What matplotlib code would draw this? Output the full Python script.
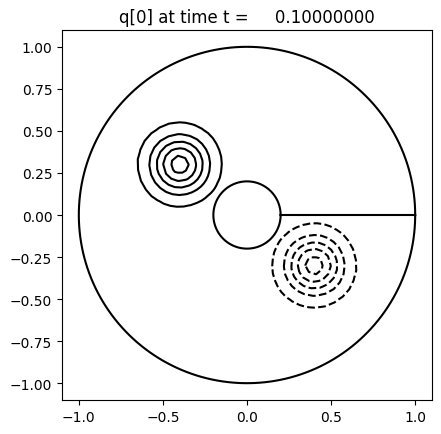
import matplotlib
matplotlib.use("Agg")
import matplotlib.pyplot as plt
import numpy as np

# annulus geometry
r_inner = 0.2
r_outer = 1.0

# two gaussian humps: (x0, y0, amplitude)
hump_x = [-0.4, 0.4]
hump_y = [0.3, -0.3]
hump_amp = [1.0, -1.0]
hump_width = 37.0

levels = [-0.9, -0.7, -0.5, -0.3, -0.1, 0.1, 0.3, 0.5, 0.7, 0.9]

t = 0.1

# mapped polar grid (cell centres), coarse like the solver output
nr, nth = 20, 80
dr = (r_outer - r_inner) / nr
dth = 2 * np.pi / nth
r = r_inner + dr * (np.arange(nr) + 0.5)
th = dth * (np.arange(nth + 1))
R, TH = np.meshgrid(r, th)
X = R * np.cos(TH)
Y = R * np.sin(TH)

q = np.zeros_like(X)
for x0, y0, a in zip(hump_x, hump_y, hump_amp):
    q += a * np.exp(-hump_width * ((X - x0) ** 2 + (Y - y0) ** 2))

fig = plt.figure(figsize=(4.41, 4.35), dpi=100)
ax = fig.add_axes([62 / 441, 1 - 401 / 435, 370 / 441, 370 / 435])

ax.contour(X, Y, q, levels=levels, colors='k', linewidths=1.5)

# domain boundary
s = np.linspace(0, 2 * np.pi, 400)
ax.plot(r_outer * np.cos(s), r_outer * np.sin(s), 'k', lw=1.5)
ax.plot(r_inner * np.cos(s), r_inner * np.sin(s), 'k', lw=1.5)
ax.plot([r_inner, r_outer], [0, 0], 'k', lw=1.5)

ax.set_xlim(-1.1, 1.1)
ax.set_ylim(-1.1, 1.1)
ax.set_aspect('equal')
ax.set_title('q[0] at time t = %14.8f' % t)

fig.savefig('out.png', dpi=100)
